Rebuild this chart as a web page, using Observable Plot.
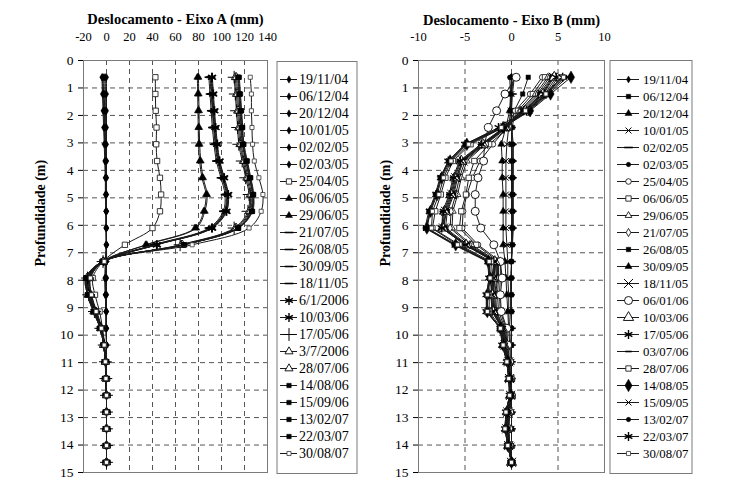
<!DOCTYPE html>
<html><head><meta charset="utf-8">
<script src="https://cdn.jsdelivr.net/npm/d3@7"></script>
<script src="https://cdn.jsdelivr.net/npm/@observablehq/plot@0.6"></script>
<style>
body{margin:0;background:#fff;}
#wrap{position:relative;width:735px;height:491px;overflow:hidden;}
#wrap svg{position:absolute;top:0;}
</style></head><body><div id="wrap"></div>
<script>
// ---------- DATA ----------
const depths = [0.61,1.22,1.83,2.44,3.05,3.66,4.27,4.88,5.49,6.10,6.71,7.32,7.92,8.53,9.14,9.75,10.36,10.97,11.58,12.19,12.80,13.41,14.02,14.63];
const depthTicks = [0,1,2,3,4,5,6,7,8,9,10,11,12,13,14,15];
const ticksA = [-20,0,20,40,60,80,100,120,140];
const ticksB = [-10,-5,0,5,10];

const datesA = ["19/11/04","06/12/04","20/12/04","10/01/05","02/02/05","02/03/05","25/04/05","06/06/05","29/06/05","21/07/05","26/08/05","30/09/05","18/11/05","6/1/2006","10/03/06","17/05/06","3/7/2006","28/07/06","14/08/06","15/09/06","13/02/07","22/03/07","30/08/07"];
const markersA = ["dia","dia","dia","dia","dia","dia","sqO","triF","triF","dash","dash","dash","dash","ast","ast","plus","triO","triO","sqF","sqF","sqF","sqF","sqOs"];

const A01 = [0,0,0,0,0,0,0,0,0,0,0,0,0,0,0,0,0,0,0,0,0,0,0,0];
const A02 = [-1,-1,-1,-0.5,-0.5,0,0,0,0,0,0,0,0,0,0,0,0,0,0,0,0,0,0,0];
const A03 = [-2,-2,-1.5,-1,-1,-0.5,-0.5,-0.5,0,0,0,0,-0.5,-0.5,0,0,0,0,0,0,0,0,0,0];
const A04 = [-3,-2.5,-2,-1.5,-1,-1,-0.5,-0.5,-0.5,0,0,0,-1,-1,-0.5,0,0,0,0,0,0,0,0,0];
const A05 = [-3.5,-3,-2.5,-2,-1.5,-1,-1,-0.5,-0.5,-0.5,0,-0.5,-1,-1,-0.5,-0.5,0,0,0,0,0,0,0,0];
const A06 = [-4,-3.5,-3,-2.5,-2,-1.5,-1,-1,-0.5,-0.5,-0.5,-1,-1.5,-1,-0.5,-0.5,0,0,0,0,0,0,0,0];
const A07 = [42.5,42.5,42.8,43.5,43.2,44,46.5,47.5,46.5,40,16,-3,-12,-10,-6,-3.5,-1.5,-0.5,-0.5,0,0,0,0,0];
const A08 = [79,79.3,79.5,79.8,80,81,83,86.5,84.5,77,34,-3,-14,-13,-8.5,-4,-2,-1,-0.5,0,0,0,0,0];
const A09 = [80,80.2,80.5,80.6,81,82,84,87.5,85.5,78,35,-3.5,-14.5,-13.5,-9,-4.5,-2,-1,-0.5,0,0,0,0,0];
const A10 = [89,90,91,92,93.5,95.5,99.5,103,101.5,89,41,-2.5,-15,-14,-9,-4.5,-2,-1,-0.5,0,0,0,0,0];
const A11 = [90,91,92,93,94.5,96.5,100.5,104,102.5,90,42,-2.5,-15.5,-14.5,-9.5,-4.5,-2,-1,-0.5,0,0,0,0,0];
const A12 = [90.5,91.5,92.5,93.5,95,97,101,104.5,103,90.5,42.5,-2.5,-15.5,-14.5,-9.5,-5,-2,-1,-0.5,0,0,0,0,0];
const A13 = [91,92,93,94,95.5,97.5,101.5,105,103.5,91,43,-2.5,-16,-15,-10,-5,-2,-1,-0.5,0,0,0,0,0];
const A14 = [91.5,92.5,93.5,94.5,96,98,102,105.5,104,91.5,43.5,-2.5,-16,-15,-10,-5,-2,-1,-0.5,0,0,0,0,0];
const A15 = [92,93,94,95,96.5,98.5,102.5,106,104.5,92,44,-2.5,-16.5,-15.5,-10.5,-5,-2,-1,-0.5,0,0,0,0,0];
const A16 = [111,112,113,114,115,118,121,124,123,111,64,-3,-16.5,-15.5,-10.5,-5,-2,-1,-0.5,0,0,0,0,0];
const A17 = [112,113,114,115,116,119,122,125,124,112,65,-3,-17,-15.5,-10.5,-5,-2.5,-1,-0.5,0,0,0,0,0];
const A18 = [113,114,115,116,117,120,123,126,125,113,66,-3,-17,-16,-11,-5,-2.5,-1,-0.5,0,0,0,0,0];
const A19 = [114,115,116,117,118,121,124,127,126,114,67,-3.5,-17.5,-16,-11,-5.5,-2.5,-1,-0.5,0,0,0,0,0];
const A20 = [114.5,115.5,116.5,117.5,118.5,121.5,124.5,127,126,114,67,-3.5,-17.5,-16,-11,-5.5,-2.5,-1,-0.5,0,0,0,0,0];
const A21 = [115,116,117,118,119,122,125,127.5,126.5,114.5,67.5,-3.5,-18,-16.5,-11.5,-5.5,-2.5,-1,-0.5,0,0,0,0,0];
const A22 = [115.5,116.5,117.5,118.5,119.5,122.5,125.5,128,127,115,68,-3.5,-18,-16.5,-11.5,-5.5,-2.5,-1,-0.5,0,0,0,0,0];
const A23 = [125,126,126,126.5,127,128.5,132.5,136,134.5,124,74.5,-2,-14,-13,-9,-4.5,-2,-1,-0.5,0,0,0,0,0];
const seriesA = [A01,A02,A03,A04,A05,A06,A07,A08,A09,A10,A11,A12,A13,A14,A15,A16,A17,A18,A19,A20,A21,A22,A23];

const datesB = ["19/11/04","06/12/04","20/12/04","10/01/05","02/02/05","02/03/05","25/04/05","06/06/05","29/06/05","21/07/05","26/08/05","30/09/05","18/11/05","06/01/06","10/03/06","17/05/06","03/07/06","28/07/06","14/08/05","15/09/05","13/02/07","22/03/07","30/08/07"];
const markersB = ["diaS","sqF","triF","timesS","dash","cirF","cirO","sqO","triOs","diaOs","sqF","triF","timesL","cirOL","triOL","ast","dashS","sqO","diaL","timesS","cirF","ast","sqOs"];

const B01 = [0,0,0,0,0,0,0,0,0,0,0,0,0,0,0,0,0,0,0,0,0,0,0,0];
const B02 = [1.8,1.2,0.3,0.1,0,0,0.1,0.1,0.1,0.1,0.1,0,0,0,0,0,0,0,0,0,0,0,0,0];
const B03 = [0,-0.1,-0.2,-0.6,-1.1,-1.0,-1.0,-0.9,-0.9,-0.9,-0.9,-0.7,-0.6,-0.5,-0.4,-0.3,-0.2,-0.1,0,0,0,0,0,0];
const B04 = [0.2,0,-0.1,-0.3,-0.5,-0.6,-0.6,-0.6,-0.6,-0.6,-0.5,-0.4,-0.4,-0.3,-0.3,-0.2,-0.1,0,0,0,0,0,0,0];
const B05 = [0.3,0.1,0,0,0.1,0.1,0.1,0.1,0.1,0.1,0,0,-0.1,-0.1,-0.1,0,0,0,0,0,0,0,0,0];
const B06 = [-0.2,-0.1,-0.1,0,0.2,0.2,0.2,0.2,0.2,0.2,0.1,0,0,0,0,0,0,0,0,0,0,0,0,0];
const B07 = [3.3,2.0,0.4,-0.5,-2.0,-3.4,-4.2,-4.8,-5.2,-5.3,-3.6,-1.2,-1.2,-1.3,-1.2,-0.6,-0.5,-0.2,-0.1,0,-0.2,-0.3,-0.2,0];
const B08 = [3.6,2.3,0.7,-0.3,-2.4,-4.0,-4.6,-4.9,-5.4,-5.6,-3.8,-1.4,-1.4,-1.5,-1.4,-0.7,-0.6,-0.3,-0.2,-0.1,-0.3,-0.3,-0.2,0];
const B09 = [3.9,2.6,0.9,-0.4,-2.8,-4.8,-5.4,-5.8,-6.3,-6.4,-4.3,-1.5,-1.5,-1.7,-1.6,-0.8,-0.6,-0.3,-0.2,-0.1,-0.3,-0.4,-0.3,0];
const B10 = [4.1,2.8,1.0,-0.5,-2.9,-5.0,-5.6,-6.0,-6.5,-6.6,-4.5,-1.6,-1.6,-1.8,-1.7,-0.8,-0.6,-0.3,-0.2,-0.1,-0.3,-0.4,-0.3,0];
const B11 = [4.3,3.0,1.2,-0.6,-3.0,-5.2,-5.8,-6.2,-6.9,-7.1,-4.7,-1.7,-1.8,-1.9,-1.8,-0.9,-0.7,-0.3,-0.2,-0.1,-0.4,-0.4,-0.3,0];
const B12 = [4.4,3.2,1.3,-0.6,-3.1,-5.3,-5.9,-6.3,-7.0,-7.3,-4.9,-1.8,-1.9,-2.0,-1.9,-0.9,-0.7,-0.3,-0.2,-0.1,-0.4,-0.5,-0.3,0];
const B13 = [4.5,3.3,1.4,-0.7,-3.0,-5.2,-6.0,-6.4,-7.1,-7.3,-4.8,-1.7,-1.9,-2.0,-1.9,-1.0,-0.7,-0.3,-0.2,-0.1,-0.4,-0.5,-0.3,0];
const B14 = [0.5,-0.7,-1.6,-2.5,-2.9,-3.0,-3.6,-3.9,-3.9,-3.3,-1.9,-1.2,-1.0,-1.2,-1.1,-0.5,-0.4,-0.2,-0.1,0,-0.2,-0.3,-0.2,0];
const B15 = [4.6,3.4,1.5,-0.7,-3.1,-5.4,-6.1,-6.5,-7.2,-7.4,-4.9,-1.8,-2.0,-2.1,-2.0,-1.0,-0.8,-0.4,-0.2,-0.1,-0.4,-0.5,-0.3,0];
const B16 = [4.8,3.6,1.6,-0.8,-3.2,-5.5,-6.2,-6.6,-7.3,-7.5,-5.0,-1.9,-2.0,-2.2,-2.1,-1.0,-0.8,-0.4,-0.2,-0.1,-0.4,-0.5,-0.3,0];
const B17 = [5.0,3.8,1.7,-0.8,-3.3,-5.6,-6.3,-6.7,-7.4,-7.5,-5.0,-1.9,-2.1,-2.2,-2.1,-1.0,-0.8,-0.4,-0.2,-0.1,-0.4,-0.5,-0.3,0];
const B18 = [5.3,3.9,1.8,-0.9,-4.4,-6.3,-7.1,-7.6,-8.2,-8.5,-5.6,-2.2,-2.2,-2.4,-2.4,-1.1,-0.8,-0.4,-0.2,-0.1,-0.5,-0.6,-0.4,0];
const B19 = [6.4,4.2,2.0,-0.9,-4.8,-6.6,-7.5,-8.0,-8.7,-9.1,-6.0,-2.5,-2.3,-2.6,-2.6,-1.2,-0.9,-0.4,-0.2,-0.1,-0.5,-0.6,-0.4,0];
const B20 = [6.0,4.0,1.9,-1.0,-4.9,-6.7,-7.6,-8.1,-8.8,-9.2,-6.1,-2.5,-2.3,-2.6,-2.6,-1.2,-0.9,-0.5,-0.3,-0.1,-0.5,-0.6,-0.4,0];
const B21 = [5.8,3.8,1.6,-1.2,-5.0,-6.8,-7.7,-8.2,-8.9,-9.3,-6.2,-2.6,-2.4,-2.7,-2.7,-1.2,-1.0,-0.5,-0.3,-0.2,-0.6,-0.7,-0.4,0];
const B22 = [5.5,3.5,1.3,-1.4,-5.0,-6.8,-7.6,-8.1,-8.8,-9.1,-6.0,-2.5,-2.4,-2.7,-2.7,-1.2,-1.0,-0.5,-0.3,-0.2,-0.6,-0.7,-0.4,0];
const B23 = [5.6,3.7,1.5,-1.1,-4.6,-6.5,-7.3,-7.8,-8.5,-8.6,-5.8,-2.4,-2.3,-2.6,-2.6,-1.2,-0.9,-0.5,-0.3,-0.2,-0.6,-0.7,-0.4,0];
const seriesB = [B01,B02,B03,B04,B05,B06,B07,B08,B09,B10,B11,B12,B13,B14,B15,B16,B17,B18,B19,B20,B21,B22,B23];

// ---------- STYLES ----------
const FONT = "'Liberation Serif','Times New Roman',serif";
const dashSym = {draw(ctx, size){ const w = Math.sqrt(size) * 0.75; ctx.moveTo(-w, 0); ctx.lineTo(w, 0); }};
const sty = {
  dia:   {symbol:"diamond", r:2.2, fill:"#000", stroke:"#000", strokeWidth:0.5},
  diaS:  {symbol:"diamond", r:2.1, fill:"#000", stroke:"#000", strokeWidth:0.5},
  diaL:  {symbol:"diamond", r:3.8, fill:"#000", stroke:"#000", strokeWidth:0.5},
  diaOs: {symbol:"diamond", r:2.5, fill:"#fff", stroke:"#000", strokeWidth:0.8},
  sqO:   {symbol:"square", r:3.0, fill:"#fff", stroke:"#222", strokeWidth:0.9},
  sqOs:  {symbol:"square", r:2.3, fill:"#fff", stroke:"#333", strokeWidth:0.8},
  sqF:   {symbol:"square", r:2.5, fill:"#000", stroke:"#000", strokeWidth:0.5},
  triF:  {symbol:"triangle", r:2.6, fill:"#000", stroke:"#000", strokeWidth:0.5},
  triO:  {symbol:"triangle", r:3.0, fill:"#fff", stroke:"#000", strokeWidth:0.9},
  triOs: {symbol:"triangle", r:2.5, fill:"#fff", stroke:"#000", strokeWidth:0.8},
  triOL: {symbol:"triangle", r:3.8, fill:"#fff", stroke:"#000", strokeWidth:0.9},
  dash:  {symbol:dashSym, r:3.2, fill:"none", stroke:"#000", strokeWidth:1.6},
  dashS: {symbol:dashSym, r:2.4, fill:"none", stroke:"#000", strokeWidth:1.6},
  ast:   {symbol:"asterisk", r:4.2, fill:"none", stroke:"#000", strokeWidth:1.4},
  plus:  {symbol:"plus", r:4.2, fill:"none", stroke:"#000", strokeWidth:1.0},
  timesS:{symbol:"times", r:2.8, fill:"none", stroke:"#000", strokeWidth:1.0},
  timesL:{symbol:"times", r:4.2, fill:"none", stroke:"#000", strokeWidth:1.0},
  cirF:  {symbol:"circle", r:2.2, fill:"#000", stroke:"#000", strokeWidth:0.5},
  cirO:  {symbol:"circle", r:2.8, fill:"#fff", stroke:"#000", strokeWidth:0.8},
  cirOL: {symbol:"circle", r:4.0, fill:"#fff", stroke:"#000", strokeWidth:0.9}
};

const wrap = document.getElementById("wrap");
function place(svg, left){ svg.style.left = left + "px"; wrap.appendChild(svg); }

function panel(o){
  const marks = [
    Plot.gridX({ticks: o.xTicks.slice(1, -1), stroke:"#555", strokeOpacity:1, strokeDasharray:"5 4"}),
    Plot.gridY({ticks: depthTicks.slice(1, -1), stroke:"#555", strokeOpacity:1, strokeDasharray:"5 4"}),
    Plot.axisX({anchor:"top", ticks:o.xTicks, tickSize:0, tickPadding:20, tickFormat:d => String(d), fontSize:12.5, label:null}),
    Plot.axisY({anchor:"left", ticks:depthTicks, tickSize:5, tickPadding:5, tickFormat:d => String(d), fontSize:13.5, label:null}),
    Plot.frame({stroke:"#7a7a7a"})
  ];
  o.series.forEach((vals, i) => {
    const pts = vals.map((v, j) => ({x:v, y:depths[j]}));
    const s = sty[o.markers[i]];
    marks.push(Plot.line(pts, {x:"x", y:"y", stroke:"#1a1a1a", strokeWidth:1, curve:o.curve}));
    marks.push(Plot.dot(pts, {x:"x", y:"y", ...s}));
  });
  marks.push(Plot.text([o.title], {frameAnchor:"top", lineAnchor:"middle", dy:o.titleDy, fontWeight:"bold", fontSize:14.5}));
  marks.push(Plot.text(["Profundidade (m)"], {frameAnchor:"left", lineAnchor:"middle", rotate:-90, dx:o.labelDx, fontWeight:"bold", fontSize:14}));
  const svg = Plot.plot({
    width:o.width, height:491, marginLeft:o.mL, marginRight:o.mR, marginTop:60, marginBottom:19,
    x:{domain:o.xDomain}, y:{domain:[0,15], reverse:true},
    style:{fontFamily:FONT, color:"#000", background:"transparent", overflow:"visible"},
    marks
  });
  place(svg, o.left);
}

function legend(o){
  const W = o.width;
  const marks = [
    Plot.frame({stroke:"#7a7a7a"}),
    Plot.ruleY(o.dates, {y:d => d, x1:o.l1, x2:o.l2, stroke:"#1a1a1a", strokeWidth:1})
  ];
  o.dates.forEach((d, i) => marks.push(Plot.dot([d], {x:(o.l1 + o.l2) / 2, y:v => v, ...sty[o.markers[i]]})));
  marks.push(Plot.text(o.dates, {x:o.tx, y:d => d, text:d => d, textAnchor:"start", fontSize:o.fs, fill:"#000"}));
  const svg = Plot.plot({
    width:W, height:491, marginLeft:0.5, marginRight:0.5, marginTop:o.top, marginBottom:491 - o.bottom,
    x:{domain:[0, W], range:[0, W], axis:null},
    y:{type:"point", domain:o.dates, range:[70, 462.5], padding:0, axis:null},
    style:{fontFamily:FONT, background:"transparent", overflow:"visible"},
    marks
  });
  place(svg, o.left);
}

panel({left:0, width:276, mL:83, mR:9, xDomain:[-20,140], xTicks:ticksA, series:seriesA, markers:markersA,
  title:"Deslocamento - Eixo A (mm)", titleDy:-41, labelDx:-43, curve:"catmull-rom"});
legend({left:276, width:81, top:61, bottom:473, dates:datesA, markers:markersA, l1:4, l2:21, tx:22.5, fs:14});
panel({left:357, width:252, mL:61, mR:5, xDomain:[-10,10], xTicks:ticksB, series:seriesB, markers:markersB,
  title:"Deslocamento - Eixo B (mm)", titleDy:-40, labelDx:-33, curve:"linear"});
legend({left:609, width:83, top:60, bottom:473, dates:datesB, markers:markersB, l1:8, l2:30, tx:33.5, fs:12.8});
</script></body></html>
